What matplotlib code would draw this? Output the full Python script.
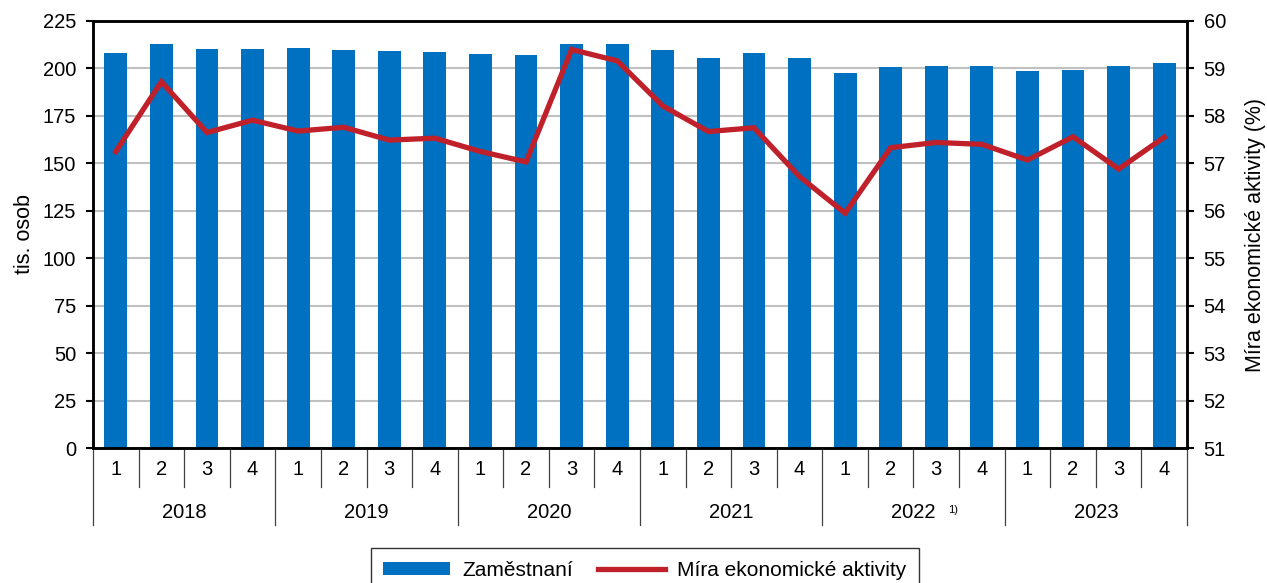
import matplotlib
matplotlib.use("Agg")
import matplotlib.pyplot as plt
import matplotlib.transforms as mtransforms
from matplotlib.patches import Patch
from matplotlib.lines import Line2D

plt.rcParams['font.family'] = ['Liberation Sans', 'DejaVu Sans']

years = ['2018', '2019', '2020', '2021', '2022', '2023']
quarters = ['1', '2', '3', '4']
employed = [208.0, 212.7, 210.1, 210.4, 210.9, 209.9, 209.2, 208.8,
            207.4, 206.9, 212.7, 212.9, 209.5, 205.7, 208.0, 205.7,
            197.6, 200.9, 201.4, 201.4, 198.6, 199.3, 201.1, 202.8]
activity = [57.25, 58.72, 57.65, 57.91, 57.68, 57.76, 57.49, 57.53,
            57.25, 57.03, 59.40, 59.16, 58.21, 57.67, 57.75, 56.72,
            55.95, 57.33, 57.44, 57.40, 57.07, 57.56, 56.88, 57.55]
left_ticks = [0, 25, 50, 75, 100, 125, 150, 175, 200, 225]
right_ticks = [51, 52, 53, 54, 55, 56, 57, 58, 59, 60]

bar_color = '#0070C0'
line_color = '#C0202A'
FS = 14.5
FSL = 15.5

fig = plt.figure(figsize=(12.67, 5.83), dpi=100)
ax = fig.add_axes([93/1267, 1 - 448/583, (1187-93)/1267, (448-21)/583])
n = len(employed)
x = list(range(n))
ax.bar(x, employed, width=0.5, color=bar_color, zorder=2)
ax.set_xlim(-0.5, n - 0.5)
ax.set_ylim(0, 225)
ax.set_yticks(left_ticks)
ax.yaxis.grid(True, color='#C0C0C0', lw=1.5, zorder=0)
ax.set_axisbelow(True)
ax.set_xticks([])
ax.tick_params(axis='y', labelsize=FS, length=5, width=1.5, direction='out', pad=7)
for s in ['left', 'top', 'right', 'bottom']:
    ax.spines[s].set_linewidth(1.8)
    ax.spines[s].set_color('black')
ax.set_ylabel('tis. osob', fontsize=FSL, labelpad=6)

ax2 = ax.twinx()
ax2.plot(x, activity, color=line_color, lw=3.8, solid_joinstyle='miter', zorder=3)
ax2.set_ylim(51, 60)
ax2.set_yticks(right_ticks)
ax2.tick_params(axis='y', labelsize=FS, length=5, width=1.5, direction='out', pad=7)
for s in ['left', 'top', 'right', 'bottom']:
    ax2.spines[s].set_linewidth(1.8)
ax2.set_ylabel('Míra ekonomické aktivity (%)', fontsize=FSL, labelpad=14)

trans = mtransforms.blended_transform_factory(ax.transData, ax.transAxes)
for i in range(n + 1):
    b = i - 0.5
    ybot = -0.180 if i % 4 == 0 else -0.0913
    ax.plot([b, b], [0, ybot], transform=trans, color='#404040', lw=0.9, clip_on=False)
for i in range(n):
    ax.text(i, -0.0515, quarters[i % 4], transform=trans, ha='center', va='center', fontsize=FS)
for j, yr in enumerate(years):
    ax.text(4 * j + 1.5, -0.152, yr, transform=trans, ha='center', va='center', fontsize=FS)
ax.text(4 * 4 + 2.25, -0.145, '1)', transform=trans, ha='left', va='center', fontsize=8)

handles = [Patch(facecolor=bar_color, edgecolor='none'),
           Line2D([0], [0], color=line_color, lw=3.8)]
leg = fig.legend(handles, ['Zaměstnaní', 'Míra ekonomické aktivity'], loc='upper center',
                 bbox_to_anchor=(645/1267, 1 - 538/583), ncol=2, fontsize=15,
                 frameon=True, fancybox=False, edgecolor='black', handlelength=3.2,
                 handleheight=0.6, columnspacing=1.2, borderpad=0.6, handletextpad=0.6)
leg.get_frame().set_linewidth(1.0)

fig.savefig('out.png', dpi=100)
